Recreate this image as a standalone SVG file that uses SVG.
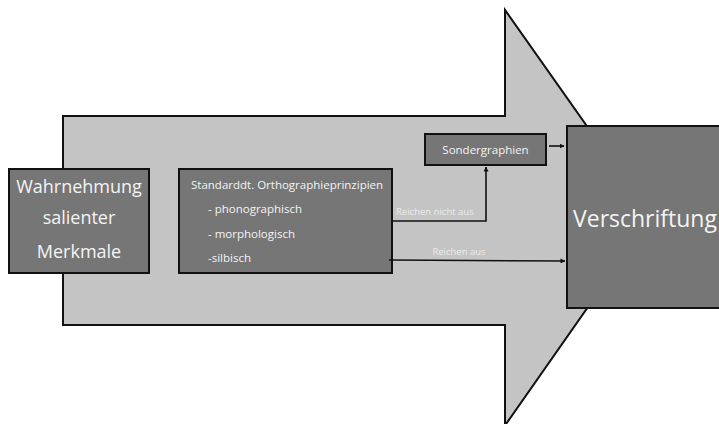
<svg xmlns="http://www.w3.org/2000/svg" width="719" height="424" viewBox="0 0 719 424">
<style>
.box{fill:#767676;stroke:#111;stroke-width:2}
.t{font-family:"Open Sans","Liberation Sans",sans-serif;fill:#f4f4f4}
.lbl{font-family:"Open Sans","Liberation Sans",sans-serif;fill:#ececec;font-size:9.5px}
.c{stroke:#111;stroke-width:1.6;fill:none}
</style>
<defs>
<marker id="ah" viewBox="0 0 10 10" refX="9" refY="5" markerWidth="5" markerHeight="5" orient="auto-start-reverse" markerUnits="userSpaceOnUse">
<path d="M0,0 L10,5 L0,10 z" fill="#111"/>
</marker>
</defs>
<rect width="719" height="424" fill="#fff"/>
<g id="bigArrow">
<polygon points="63,116 505,116 505,10 651,217 506,424 505,424 505,325 63,325" fill="#c4c4c4" stroke="#111" stroke-width="2"/>
</g>
<g id="wahrnehmung">
<rect class="box" x="9" y="169" width="140" height="104"/>
<text class="t" font-size="18" text-anchor="middle" x="79" y="193">Wahrnehmung</text>
<text class="t" font-size="18" text-anchor="middle" x="79" y="224">salienter</text>
<text class="t" font-size="18" text-anchor="middle" x="79" y="258">Merkmale</text>
</g>
<g id="standard">
<rect class="box" x="179" y="169" width="213" height="104"/>
<text class="t" font-size="11.5" x="191" y="189">Standarddt. Orthographieprinzipien</text>
<text class="t" font-size="11.5" x="208" y="213">- phonographisch</text>
<text class="t" font-size="11.5" x="208" y="238">- morphologisch</text>
<text class="t" font-size="11.5" x="208" y="262">-silbisch</text>
</g>
<g id="sondergraphien">
<rect class="box" x="425" y="134" width="121" height="31"/>
<text class="t" font-size="11.5" text-anchor="middle" x="485.5" y="154">Sondergraphien</text>
</g>
<g id="verschriftung">
<rect class="box" x="567" y="126" width="160" height="182"/>
<text class="t" font-size="23" x="573" y="227">Verschriftung</text>
</g>
<g id="connectors">
<path class="c" d="M549,146 L564,146" marker-end="url(#ah)"/>
<path class="c" d="M392,221 L486,221 L486,167" marker-end="url(#ah)"/>
<path class="c" d="M389,260 L565,261" marker-end="url(#ah)"/>
<text class="lbl" x="396" y="215">Reichen nicht aus</text>
<text class="lbl" x="459" y="255" text-anchor="middle">Reichen aus</text>
</g>
</svg>
